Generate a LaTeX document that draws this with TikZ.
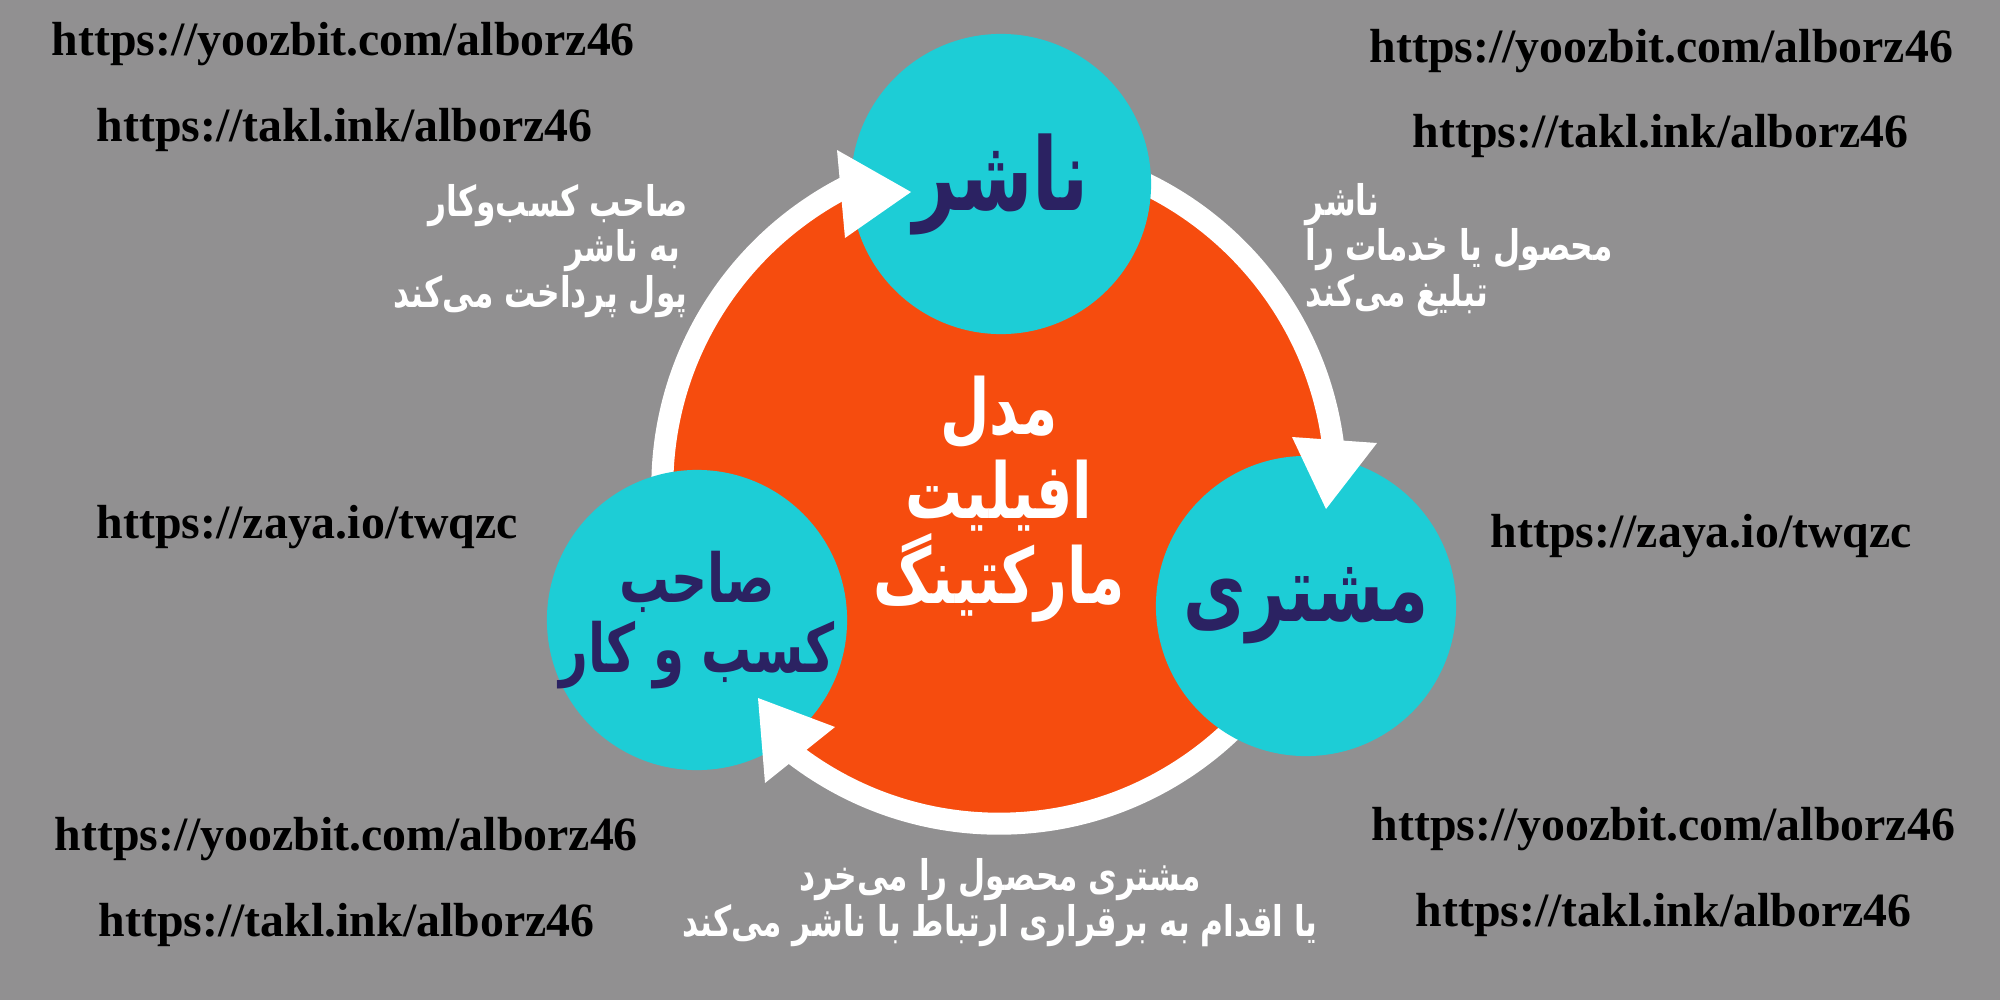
\documentclass[tikz,border=0pt]{standalone}
\usepackage{fontspec}
\usepackage{xcolor}
\newfontfamily\fafont[Script=Arabic, FakeStretch=0.74]{DejaVu Sans}
\newfontfamily\urlfont{Liberation Serif}
\TeXXeTstate=1
\usetikzlibrary{positioning}
\definecolor{bggray}{HTML}{919091}
\definecolor{hubred}{HTML}{F64C0E}
\definecolor{rolecyan}{HTML}{1DCDD6}
\definecolor{rolenavy}{HTML}{2B2262}
\newcommand{\rtl}[1]{\beginR #1\endR}

\begin{document}
\begin{tikzpicture}[x=0.01cm, y=-0.01cm,
    url/.style={font=\urlfont\bfseries\fontsize{13.6}{16}\selectfont,
      anchor=west, inner sep=0pt},
    note/.style={font=\fafont\bfseries\fontsize{12}{11.6}\selectfont,
      text=white, inner sep=0pt},
    role/.style={circle, fill=rolecyan, minimum size=3cm, inner sep=-0.6cm,
      text=rolenavy, align=center},
    tip/.style={fill=white}]
  \fill[bggray] (0,0) rectangle (2000,1000);

  % the big circle and its white ring
  \node[circle, fill=hubred, minimum size=6.52cm, inner sep=0pt] (hub) at (999,487) {};
  \draw[white, line width=0.22cm] (hub.center) circle (3.365cm);
  \node[text=white, align=center, inner sep=0pt,
    font=\fafont\bfseries\fontsize{21.9}{24}\selectfont]
    (title) at ([yshift=-0.12cm]hub.center) {\rtl{مدل}\\\rtl{افیلیت}\\\rtl{مارکتینگ}};

  % the three roles
  \node[role, font=\fafont\bfseries\fontsize{28.7}{30}\selectfont]
    (nashr) at (1001,184) {\rtl{ناشر}};
  \node[role, font=\fafont\bfseries\fontsize{26.2}{28}\selectfont]
    (moshtari) at (1306,606) {\rtl{مشتری}};
  \node[role, font=\fafont\bfseries\fontsize{19.2}{20}\selectfont]
    (saheb) at (697,620) {\rtl{صاحب}\\\rtl{کسب و کار}};

  % arrow heads on the ring
  \fill[tip] (837,150) -- (911,192) -- (845,238) -- cycle;
  \fill[tip] (1292,437) -- (1326,509) -- (1377,443) -- cycle;
  \fill[tip] (835,727) -- (758,698) -- (765,783) -- cycle;

  % flow texts
  \node[note, align=right, anchor=east] (pays) at (688,251)
    {\rtl{صاحب کسب‌وکار}\\\rtl{به ناشر}\,\\\rtl{پول پرداخت می‌کند}};
  \node[note, align=left, anchor=west] (ads) at (1305,250)
    {\rtl{ناشر}\\\rtl{محصول یا خدمات را}\\\rtl{تبلیغ می‌کند}};
  \node[note, align=center] (buys) at (1000,903)
    {\rtl{مشتری محصول را می‌خرد}\\\rtl{یا اقدام به برقراری ارتباط با ناشر می‌کند}};

  % links
  \node[url] (tl1) at (51,44) {https://yoozbit.com/alborz46};
  \node[url] (tl2) at (96,130) {https://takl.ink/alborz46};
  \node[url] (tr1) at (1369,51) {https://yoozbit.com/alborz46};
  \node[url] (tr2) at (1412,136) {https://takl.ink/alborz46};
  \node[url] (ml) at (96,527) {https://zaya.io/twqzc};
  \node[url] (mr) at (1490,536) {https://zaya.io/twqzc};
  \node[url] (bl1) at (54,839) {https://yoozbit.com/alborz46};
  \node[url] (bl2) at (98,925) {https://takl.ink/alborz46};
  \node[url] (br1) at (1371,829) {https://yoozbit.com/alborz46};
  \node[url] (br2) at (1415,915) {https://takl.ink/alborz46};
\end{tikzpicture}
\end{document}
